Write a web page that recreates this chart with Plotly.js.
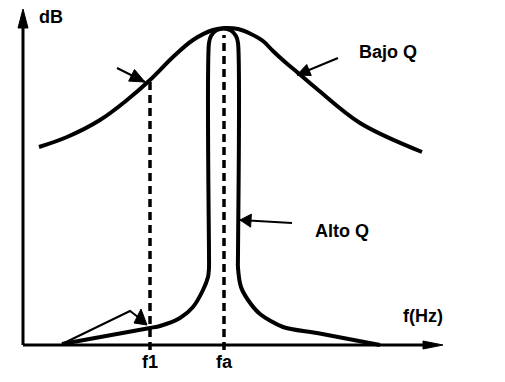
<!DOCTYPE html>
<html>
<head>
<meta charset="utf-8">
<script src="https://cdn.plot.ly/plotly-3.0.1.min.js"></script>
<style>html,body{margin:0;padding:0;background:#fff;}#chart{width:505px;height:382px;}</style>
</head>
<body>
<div id="chart"></div>
<script>
// Low-Q response (frequency units, dB units)
const bajoQ_f  = [16, 44, 77, 104, 127, 150, 170, 190, 202, 215, 228, 240, 250, 262, 274, 294, 337, 399];
const bajoQ_dB = [198, 208, 225, 245, 265, 288, 305, 315, 317, 316, 311, 304, 294, 283, 273, 256, 222, 193];

// High-Q response
const altoQ_f  = [39, 127, 137, 157, 170, 180, 185, 186, 186, 186, 188, 193.3, 200.5, 207.7, 213, 215, 215, 215, 218, 225, 237, 260, 294, 357];
const altoQ_dB = [1, 17, 19, 27, 38, 55, 68, 77, 90, 302, 309, 314.6, 316.5, 314.6, 309, 302, 90, 77, 58, 45, 31, 18, 12, 0];

// Marked frequencies
const markFreqs  = [127, 201];
const markTops   = [265, 310];
const markLabels = ['f1', 'fa'];

// Pointer arrows: tail -> tip, head length / width
const arrowTail_f  = [94, 315, 269];
const arrowTail_dB = [277, 287, 122];
const arrowTip_f   = [122, 274, 217];
const arrowTip_dB  = [263, 270, 125];
const arrowHeadLen = [15, 13, 11];
const arrowHeadWid = [13, 12, 13];

// Lower pointer (bent line + head)
const lowPtr_f  = [39, 107, 115];
const lowPtr_dB = [1, 34, 28];
const lowHead_f  = [111, 118, 124];
const lowHead_dB = [22, 36, 20];

// Axes (origin -> tip)
const axisX_end = 420;
const axisY_end = 336;

// Text labels
const labelText = ['dB', 'Bajo Q', 'Alto Q', 'f(Hz)'];
const label_f   = [28, 365, 319, 400];
const label_dB  = [328, 293, 114, 29];

function head(tipX, tipY, tailX, tailY, len, wid) {
  const dx = tipX - tailX, dy = tipY - tailY;
  const d = Math.hypot(dx, dy);
  const ux = dx / d, uy = dy / d;
  const bx = tipX - ux * len, by = tipY - uy * len;
  const px = -uy * wid / 2, py = ux * wid / 2;
  return {x: [tipX, bx + px, bx - px, tipX], y: [tipY, by + py, by - py, tipY]};
}

const traces = [];
const black = '#000';

// dashed marker lines
markFreqs.forEach((f, i) => {
  traces.push({x: [f, f], y: [-5, markTops[i]], mode: 'lines',
    line: {color: black, width: 3.5, dash: '8px,5px'}, hoverinfo: 'skip'});
});

// axes
traces.push({x: [0, axisX_end - 18], y: [0, 0], mode: 'lines', line: {color: black, width: 3}});
traces.push({x: [0, 0], y: [0, axisY_end - 17], mode: 'lines', line: {color: black, width: 3}});
const hx = head(axisX_end, 0, 0, 0, 20, 8);
traces.push({x: hx.x, y: hx.y, mode: 'lines', fill: 'toself', fillcolor: black, line: {color: black, width: 1}});
const hy = head(0, axisY_end, 0, 0, 19, 10);
traces.push({x: hy.x, y: hy.y, mode: 'lines', fill: 'toself', fillcolor: black, line: {color: black, width: 1}});

// curves
traces.push({x: bajoQ_f, y: bajoQ_dB, mode: 'lines', line: {color: black, width: 4, shape: 'spline', smoothing: 1}});
traces.push({x: altoQ_f, y: altoQ_dB, mode: 'lines', line: {color: black, width: 4, shape: 'spline', smoothing: 0.8}});

// pointer arrows
arrowTail_f.forEach((t, i) => {
  const hh = head(arrowTip_f[i], arrowTip_dB[i], t, arrowTail_dB[i], arrowHeadLen[i], arrowHeadWid[i]);
  traces.push({x: [t, arrowTip_f[i]], y: [arrowTail_dB[i], arrowTip_dB[i]], mode: 'lines', line: {color: black, width: 2}});
  traces.push({x: hh.x, y: hh.y, mode: 'lines', fill: 'toself', fillcolor: black, line: {color: black, width: 1}});
});
traces.push({x: lowPtr_f, y: lowPtr_dB, mode: 'lines', line: {color: black, width: 2}});
traces.push({x: lowHead_f.concat([lowHead_f[0]]), y: lowHead_dB.concat([lowHead_dB[0]]), mode: 'lines', fill: 'toself', fillcolor: black, line: {color: black, width: 1}});

const font = {family: 'Liberation Sans, Arial, sans-serif', size: 18, color: black, weight: 700};
const annotations = labelText.map((t, i) => ({x: label_f[i], y: label_dB[i], text: t, showarrow: false, font: font}));
markLabels.forEach((t, i) => annotations.push({x: markFreqs[i], y: -17, text: t, showarrow: false, font: font}));

const layout = {
  width: 505, height: 382,
  margin: {l: 0, r: 0, t: 0, b: 0},
  paper_bgcolor: '#fff', plot_bgcolor: '#fff',
  showlegend: false,
  xaxis: {range: [-23, 482], visible: false, fixedrange: true},
  yaxis: {range: [-37, 345], visible: false, fixedrange: true},
  annotations: annotations
};
Plotly.newPlot('chart', traces, layout, {staticPlot: true, displayModeBar: false});
</script>
</body>
</html>
